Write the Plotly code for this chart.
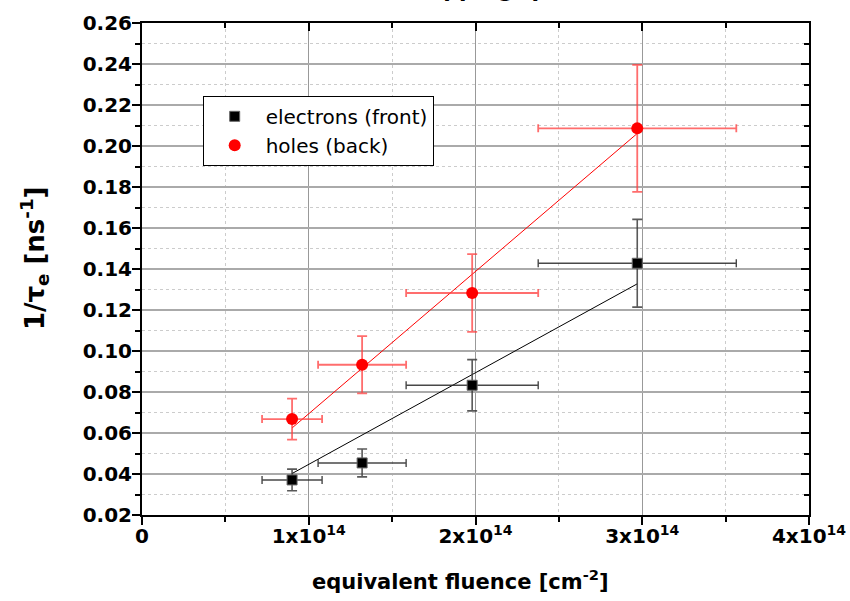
import plotly.graph_objects as go

# ---- data ----
fluence = [0.90e14, 1.32e14, 1.98e14, 2.97e14]
fluence_err = [0.18e14, 0.264e14, 0.396e14, 0.594e14]

electrons = [0.0371, 0.0454, 0.0833, 0.1428]
electrons_err = [0.0053, 0.0068, 0.0125, 0.0214]

holes = [0.0668, 0.0933, 0.1283, 0.2086]
holes_err = [0.0100, 0.0140, 0.0190, 0.0310]

slope_electrons = 4.47e-16
slope_holes = 6.94e-16

x_tickvals = [0, 1e14, 2e14, 3e14, 4e14]
x_ticktext = ["0", "1x10<sup>14</sup>", "2x10<sup>14</sup>", "3x10<sup>14</sup>", "4x10<sup>14</sup>"]

FONT = "DejaVu Sans, Arial, sans-serif"

fit_x = [min(fluence), max(fluence)]

fig = go.Figure()

# fit lines
fig.add_trace(go.Scatter(x=fit_x, y=[slope_electrons * v for v in fit_x], mode="lines",
                         line=dict(color="black", width=1), showlegend=False, hoverinfo="skip"))
fig.add_trace(go.Scatter(x=fit_x, y=[slope_holes * v for v in fit_x], mode="lines",
                         line=dict(color="red", width=1), showlegend=False, hoverinfo="skip"))

fig.add_trace(go.Scatter(
    x=fluence, y=electrons, mode="markers", name="electrons (front)",
    marker=dict(symbol="square", size=10, color="black", line=dict(color="#666666", width=1)),
    error_y=dict(type="data", array=electrons_err, color="rgba(60,60,60,0.85)", thickness=1.6, width=5),
    error_x=dict(type="data", array=fluence_err, color="rgba(40,40,40,0.85)", thickness=1.4, width=4),
))
fig.add_trace(go.Scatter(
    x=fluence, y=holes, mode="markers", name="holes (back)",
    marker=dict(symbol="circle", size=12, color="red", line=dict(color="red", width=0)),
    error_y=dict(type="data", array=holes_err, color="rgba(255,60,60,0.75)", thickness=1.8, width=5),
    error_x=dict(type="data", array=fluence_err, color="rgba(255,60,60,0.75)", thickness=1.8, width=4),
))

# invisible trace to activate mirrored-inside axes
fig.add_trace(go.Scatter(x=[0], y=[0.02], xaxis="x2", yaxis="y2", mode="markers",
                         marker=dict(opacity=0), showlegend=False, hoverinfo="skip"))

fig.update_layout(
    width=850, height=601,
    margin=dict(l=142, r=41, t=23, b=86, autoexpand=False),
    paper_bgcolor="white", plot_bgcolor="white",
    font=dict(family=FONT, color="black"),
    showlegend=True,
    legend=dict(x=0.091, y=0.852, xanchor="left", yanchor="top",
                bgcolor="white", bordercolor="black", borderwidth=1,
                font=dict(family=FONT, size=20, color="black"),
                itemwidth=52, tracegroupgap=0),
    xaxis=dict(
        range=[0, 4e14], tickvals=x_tickvals, ticktext=x_ticktext, automargin=False,
        tickfont=dict(family=FONT, size=20, color="black", weight="bold"),
        ticks="outside", ticklen=8, tickwidth=2, tickcolor="black",
        ticklabelstandoff=-6,
        showline=True, linecolor="black", linewidth=2,
        showgrid=True, gridcolor="#999999", gridwidth=1,
        zeroline=False,
        minor=dict(dtick=0.5e14, tick0=0, ticks="outside", ticklen=5, tickwidth=2, tickcolor="black",
                   showgrid=True, gridcolor="#cccccc", griddash="dot", gridwidth=1),
    ),
    yaxis=dict(
        range=[0.02, 0.26], dtick=0.02, tick0=0.02, tickformat=".2f", automargin=False,
        tickfont=dict(family=FONT, size=20, color="black", weight="bold"),
        ticks="outside", ticklen=8, tickwidth=2, tickcolor="black",
        ticklabelstandoff=-4,
        showline=True, linecolor="black", linewidth=2,
        showgrid=True, gridcolor="#aaaaaa", gridwidth=1.5,
        zeroline=False,
        minor=dict(dtick=0.01, tick0=0.02, ticks="outside", ticklen=5, tickwidth=2, tickcolor="black",
                   showgrid=True, gridcolor="#cccccc", griddash="dot", gridwidth=1),
    ),
    xaxis2=dict(
        overlaying="x", side="top", range=[0, 4e14], tickvals=x_tickvals, automargin=False,
        showticklabels=False, ticks="inside", ticklen=8, tickwidth=2, tickcolor="black",
        showline=True, linecolor="black", linewidth=2, showgrid=False, zeroline=False,
        minor=dict(dtick=0.5e14, tick0=0, ticks="inside", ticklen=5, tickwidth=2, tickcolor="black", showgrid=False),
    ),
    yaxis2=dict(
        overlaying="y", side="right", range=[0.02, 0.26], dtick=0.02, tick0=0.02, automargin=False,
        showticklabels=False, ticks="inside", ticklen=8, tickwidth=2, tickcolor="black",
        showline=True, linecolor="black", linewidth=2, showgrid=False, zeroline=False,
        minor=dict(dtick=0.01, tick0=0.02, ticks="inside", ticklen=5, tickwidth=2, tickcolor="black", showgrid=False),
    ),
    annotations=[
        dict(text="<b>Trapping (p-bulk)</b>", xref="paper", yref="paper",
             x=0.7196, y=1.0386, xanchor="right", yanchor="bottom", showarrow=False,
             font=dict(family=FONT, size=22, color="black")),
        dict(text="<b>equivalent fluence [cm<sup>-2</sup>]</b>", xref="paper", yref="paper",
             x=0.478, y=-0.132, xanchor="center", yanchor="middle", showarrow=False,
             font=dict(family=FONT, size=21, color="black")),
        dict(text="<b>1/τ<sub>e</sub> [ns<sup>-1</sup>]</b>", xref="paper", yref="paper",
             x=-0.162, y=0.522, xanchor="center", yanchor="middle", showarrow=False, textangle=-90,
             font=dict(family=FONT, size=26, color="black")),
    ],
)

fig.write_html("out.html")
